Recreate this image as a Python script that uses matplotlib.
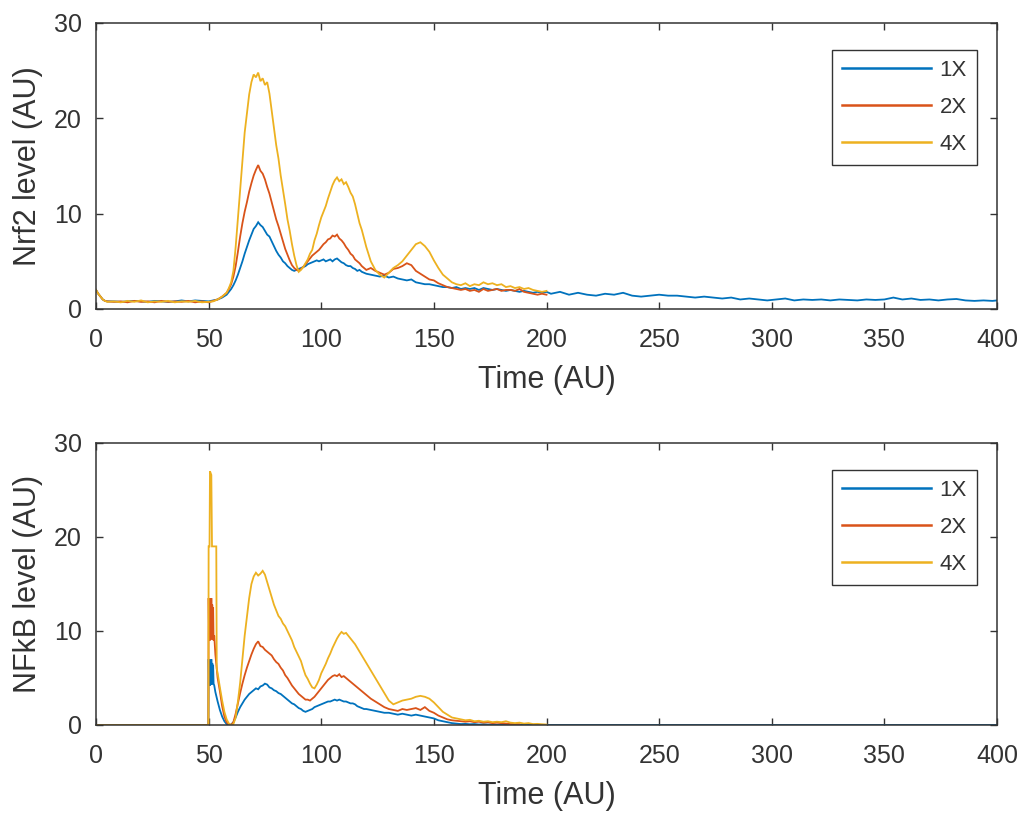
import numpy as np
import matplotlib
matplotlib.use("Agg")
import matplotlib.pyplot as plt

# ---------------- data ----------------
SERIES_LABELS = ["1X", "2X", "4X"]
SERIES_COLORS = ["#0072BD", "#D95319", "#EDB120"]

# Top panel (Nrf2) shared time grid 0..200
NRF2_T = [0, 1, 2, 3, 4, 5, 8, 11, 14, 17, 20, 23, 26, 29, 32, 35, 38, 41, 44, 47,
          50, 52, 54, 56, 58,
          59, 60, 61, 62, 63, 64, 65, 66, 67, 68, 69, 70, 71, 72, 73, 74, 75, 76, 77, 78, 79,
          80, 81, 82, 83, 84, 85, 86, 87, 88, 89, 90, 91, 92, 93, 94, 95, 96, 97, 98, 99,
          100, 101, 102, 103, 104, 105, 106, 107, 108, 109, 110, 111, 112, 113, 114, 115, 116, 117, 118, 119, 120,
          122, 124, 126, 128, 130, 132, 134, 136, 138, 140, 142, 144, 146, 148, 150, 152, 154, 156, 158, 160,
          162, 164, 166, 168, 170, 172, 174, 176, 178, 180, 182, 184, 186, 188, 190, 192, 194, 196, 198, 200]

NRF2_4X = [2.0, 1.6, 1.3, 1.0, 0.85, 0.75, 0.8, 0.7, 0.85, 0.75, 0.9, 0.7, 0.8, 0.75, 0.85, 0.7, 0.8, 0.75, 0.85, 0.7,
           0.75, 0.8, 1.0, 1.3, 1.7,
           2.2, 2.8, 4.0, 6.5, 9.5, 12.5, 15.5, 18.5, 20.5, 22.5, 23.8, 24.6, 24.3, 24.8, 23.9, 24.2, 23.5, 23.8, 22.6, 20.8, 19.0,
           17.2, 15.8, 14.0, 12.5, 11.0, 9.4, 8.2, 6.8, 5.6, 4.6, 3.9, 4.1, 4.4, 4.8, 5.2, 5.8, 6.2, 7.2, 7.9, 8.8,
           9.6, 10.2, 10.8, 11.6, 12.3, 13.0, 13.5, 13.8, 13.4, 13.6, 13.1, 13.3, 12.8, 12.2, 11.8, 11.0, 10.0, 9.0, 8.3, 7.4, 6.5,
           5.0, 4.1, 3.6, 3.3, 3.8, 4.3, 4.6, 5.0, 5.6, 6.2, 6.8, 7.0, 6.6, 6.0, 5.1, 4.3, 3.6, 3.2, 2.8, 2.6,
           2.5, 2.7, 2.4, 2.6, 2.5, 2.8, 2.6, 2.7, 2.5, 2.6, 2.3, 2.4, 2.2, 2.3, 2.1, 2.2, 2.0, 1.9, 1.8, 1.9]

NRF2_2X = [2.0, 1.6, 1.3, 1.0, 0.85, 0.8, 0.75, 0.8, 0.7, 0.85, 0.75, 0.8, 0.7, 0.85, 0.75, 0.8, 0.75, 0.85, 0.7, 0.8,
           0.7, 0.85, 1.0, 1.3, 1.7,
           2.1, 2.6, 3.4, 4.5, 6.0, 7.6, 9.0, 10.2, 11.2, 12.3, 13.2, 14.0, 14.6, 15.1, 14.5, 14.2, 13.6, 12.8, 12.1, 11.2, 10.3,
           9.4, 8.7, 7.9, 7.1, 6.3, 5.7, 5.1, 4.6, 4.3, 4.1, 4.0, 4.2, 4.4, 4.7, 5.0, 5.3, 5.6, 5.8, 6.0, 6.2,
           6.5, 6.8, 7.0, 7.3, 7.4, 7.7, 7.6, 7.8, 7.4, 7.2, 6.9, 6.5, 6.2, 5.8, 5.6, 5.2, 5.0, 4.8, 4.5, 4.3, 4.1,
           4.3, 4.0, 3.8, 3.6, 3.8, 4.2, 4.3, 4.5, 4.8, 4.6, 4.0, 3.7, 3.4, 3.1, 3.0, 2.7, 2.5, 2.3, 2.2, 2.1,
           2.0, 2.1, 1.9, 2.0, 1.8, 2.1, 1.9, 2.0, 2.1, 1.9, 2.0, 2.0, 1.9, 2.1, 1.8, 1.7, 1.6, 1.5, 1.6, 1.5]

NRF2_1X = [2.0, 1.6, 1.3, 1.0, 0.85, 0.8, 0.8, 0.75, 0.8, 0.85, 0.8, 0.75, 0.85, 0.8, 0.75, 0.8, 0.9, 0.8, 0.9, 0.85,
           0.8, 0.9, 1.0, 1.2, 1.5,
           1.8, 2.1, 2.5, 3.0, 3.6, 4.3, 5.0, 5.8, 6.5, 7.2, 7.8, 8.4, 8.7, 9.1, 8.8, 8.6, 8.2, 7.8, 7.6, 7.1, 6.6,
           6.1, 5.7, 5.4, 5.0, 4.8, 4.5, 4.3, 4.1, 4.0, 4.1, 4.2, 4.3, 4.4, 4.5, 4.7, 4.8, 4.9, 5.0, 5.1, 5.0,
           5.1, 5.2, 5.0, 5.1, 5.2, 5.0, 5.2, 5.3, 5.1, 4.9, 4.8, 4.6, 4.5, 4.5, 4.3, 4.2, 4.0, 4.1, 3.9, 3.8, 3.7,
           3.6, 3.5, 3.4, 3.5, 3.3, 3.4, 3.2, 3.1, 3.0, 3.1, 2.8, 2.7, 2.6, 2.6, 2.5, 2.4, 2.3, 2.3, 2.2, 2.3,
           2.1, 2.2, 2.1, 2.2, 2.0, 2.2, 2.1, 2.0, 2.1, 2.0, 1.9, 2.0, 1.9, 1.8, 1.9, 1.8, 1.7, 1.8, 1.7, 1.8]

# 1X continues to t = 400
NRF2_1X_TAIL_T = [202, 206, 210, 214, 218, 222, 226, 230, 234, 238, 242, 246, 250, 254, 258, 262, 266, 270,
                  274, 278, 282, 286, 290, 294, 298, 302, 306, 310, 314, 318, 322, 326, 330, 334, 338, 342,
                  346, 350, 354, 358, 362, 366, 370, 374, 378, 382, 386, 390, 394, 398, 400]
NRF2_1X_TAIL = [1.6, 1.8, 1.5, 1.7, 1.5, 1.4, 1.6, 1.5, 1.7, 1.4, 1.3, 1.4, 1.5, 1.4, 1.4, 1.3, 1.2, 1.3,
                1.2, 1.1, 1.2, 1.0, 1.1, 1.0, 0.9, 1.0, 1.1, 0.9, 1.0, 0.95, 1.0, 0.9, 1.0, 0.95, 0.9, 1.0,
                0.95, 1.0, 1.2, 1.0, 1.1, 0.95, 1.0, 0.9, 1.0, 1.05, 0.9, 0.85, 0.9, 0.85, 0.9]

# Bottom panel (NFkB): initial burst at t = 50
NFKB_4X_SPIKE_T = [0, 49.9, 50.0, 50.4, 50.6, 51.2, 51.5, 53.4, 53.6]
NFKB_4X_SPIKE = [0, 0, 19.0, 19.0, 27.0, 26.6, 19.0, 19.0, 6.0]
NFKB_2X_SPIKE_T = [0, 49.9, 50.0, 50.2, 50.4, 50.6, 50.8, 51.0, 51.2, 51.4, 51.6, 51.8, 52.0, 52.2, 52.5, 53.0]
NFKB_2X_SPIKE = [0, 0, 13.5, 9.2, 13.4, 9.0, 13.2, 9.3, 13.5, 9.1, 12.8, 9.4, 12.5, 9.0, 9.5, 7.5]
NFKB_1X_SPIKE_T = [0, 49.9, 50.0, 50.2, 50.4, 50.6, 50.8, 51.0, 51.2, 51.4, 51.6, 51.8, 52.0, 52.2, 52.5, 53.0]
NFKB_1X_SPIKE = [0, 0, 7.0, 4.3, 6.9, 4.2, 6.8, 4.4, 7.0, 4.3, 6.6, 4.5, 6.4, 4.4, 4.2, 3.5]

NFKB_T = [54, 55, 56, 57, 58, 59, 60, 61, 62, 63, 64, 65, 66, 67, 68, 69, 70, 71, 72, 73, 74, 75, 76, 77, 78, 79,
          80, 81, 82, 83, 84, 85, 86, 87, 88, 89, 90, 91, 92, 93, 94, 95, 96, 97, 98, 99,
          100, 101, 102, 103, 104, 105, 106, 107, 108, 109, 110, 111, 112, 113, 114, 115, 116, 117, 118, 119, 120,
          122, 124, 126, 128, 130, 132, 134, 136, 138, 140, 142, 144, 146, 148, 150, 152, 154, 156, 158, 160,
          162, 164, 166, 168, 170, 172, 174, 176, 178, 180, 182, 184, 186, 188, 190, 192, 194, 196, 198, 200]

NFKB_4X = [5.5, 4.0, 2.6, 1.4, 0.6, 0.15, 0.0, 0.1, 0.8, 2.5, 4.5, 7.0, 9.5, 11.5, 13.5, 15.0, 15.8, 16.2, 15.9, 16.1,
           16.4, 16.0, 15.2, 14.4, 13.6, 12.8,
           12.2, 11.6, 11.3, 10.8, 10.5, 10.0, 9.5, 9.0, 8.3, 7.8, 7.3, 6.8, 6.0, 5.3, 4.9, 4.4, 4.0, 3.9, 4.3, 4.8,
           5.5, 6.0, 6.5, 7.1, 7.6, 8.2, 8.7, 9.2, 9.6, 9.9, 9.7, 9.8, 9.5, 9.2, 8.9, 8.6, 8.2, 7.8, 7.4, 7.0, 6.6,
           5.8, 5.0, 4.2, 3.4, 2.6, 2.2, 2.4, 2.6, 2.7, 2.8, 3.0, 3.1, 3.0, 2.8, 2.4, 1.9, 1.4, 1.1, 0.8, 0.7,
           0.6, 0.5, 0.55, 0.4, 0.45, 0.35, 0.4, 0.3, 0.35, 0.3, 0.4, 0.25, 0.2, 0.25, 0.15, 0.2, 0.1, 0.12, 0.08, 0.05]

NFKB_2X = [5.0, 3.6, 2.0, 0.9, 0.3, 0.05, 0.0, 0.3, 1.2, 2.3, 3.4, 4.4, 5.3, 6.1, 6.8, 7.5, 8.1, 8.6, 8.9, 8.4,
           8.3, 8.0, 7.8, 7.6, 7.4, 7.0,
           6.7, 6.5, 6.1, 5.8, 5.3, 5.0, 4.6, 4.2, 3.9, 3.6, 3.3, 3.1, 2.9, 2.7, 2.7, 2.6, 2.8, 3.0, 3.3, 3.6,
           3.9, 4.2, 4.5, 4.8, 5.0, 5.2, 5.3, 5.2, 5.4, 5.1, 5.2, 5.0, 4.8, 4.6, 4.4, 4.2, 4.0, 3.8, 3.6, 3.4, 3.2,
           2.8, 2.5, 2.2, 1.9, 1.7, 1.6, 1.5, 1.7, 1.6, 1.7, 1.8, 1.6, 1.9, 1.5, 1.3, 1.0, 0.8, 0.6, 0.5, 0.45,
           0.4, 0.35, 0.4, 0.3, 0.35, 0.25, 0.3, 0.2, 0.25, 0.2, 0.15, 0.1, 0.12, 0.08,
           np.nan, np.nan, np.nan, np.nan, np.nan, np.nan]

NFKB_1X = [2.5, 1.6, 0.9, 0.4, 0.1, 0.0, 0.05, 0.3, 0.8, 1.4, 1.9, 2.3, 2.7, 3.0, 3.3, 3.5, 3.7, 3.9, 3.8, 4.1,
           4.2, 4.4, 4.3, 4.0, 3.9, 3.7,
           3.6, 3.4, 3.3, 3.1, 2.9, 2.7, 2.5, 2.3, 2.2, 2.0, 1.8, 1.7, 1.5, 1.4, 1.5, 1.6, 1.7, 1.9, 2.0, 2.1,
           2.2, 2.3, 2.4, 2.5, 2.5, 2.6, 2.7, 2.6, 2.7, 2.6, 2.5, 2.5, 2.4, 2.3, 2.3, 2.2, 2.0, 1.9, 1.8, 1.7, 1.7,
           1.6, 1.5, 1.4, 1.3, 1.3, 1.2, 1.1, 1.2, 1.1, 1.0, 1.1, 1.0, 0.9, 0.8, 0.7, 0.5, 0.4, 0.3, 0.2, 0.15,
           0.1, 0.12, 0.08, 0.1, 0.05, 0.08, 0.05, 0.04, 0.03, 0.03, 0.02, 0.03, 0.02, 0.02, 0.01, 0.02, 0.01, 0.0, 0.0, 0.0]
NFKB_1X_TAIL_T = [400]
NFKB_1X_TAIL = [0.0]

X_TICKS = [0, 50, 100, 150, 200, 250, 300, 350, 400]
Y_TICKS = [0, 10, 20, 30]
XLABEL = "Time (AU)"
YLABELS = ["Nrf2 level (AU)", "NFkB level (AU)"]

# ---------------- figure ----------------
plt.rcParams["font.family"] = ["Liberation Sans", "DejaVu Sans"]
GRAY = "#333333"
W, H = 1030, 815
fig = plt.figure(figsize=(W / 100, H / 100), dpi=100)

ax_top = fig.add_axes([96 / W, 1 - 309 / H, (997 - 96) / W, (309 - 23) / H])
ax_bot = fig.add_axes([96 / W, 1 - 725 / H, (997 - 96) / W, (725 - 443) / H])

top_series = [
    (NRF2_T + NRF2_1X_TAIL_T, NRF2_1X + NRF2_1X_TAIL),
    (NRF2_T, NRF2_2X),
    (NRF2_T, NRF2_4X),
]
bot_series = [
    (NFKB_1X_SPIKE_T + NFKB_T + NFKB_1X_TAIL_T, NFKB_1X_SPIKE + NFKB_1X + NFKB_1X_TAIL),
    (NFKB_2X_SPIKE_T + NFKB_T, NFKB_2X_SPIKE + NFKB_2X),
    (NFKB_4X_SPIKE_T + NFKB_T, NFKB_4X_SPIKE + NFKB_4X),
]

for ax, series, ylab, leg_top in [(ax_top, top_series, YLABELS[0], 50),
                                  (ax_bot, bot_series, YLABELS[1], 470)]:
    for (t, v), lab, col in zip(series, SERIES_LABELS, SERIES_COLORS):
        ax.plot(t, v, color=col, lw=1.3, label=lab, solid_joinstyle="miter")
    ax.set_xlim(0, 400)
    ax.set_ylim(0, 30)
    ax.set_xticks(X_TICKS)
    ax.set_yticks(Y_TICKS)
    ax.tick_params(axis="both", direction="in", length=5, width=1.0, colors=GRAY,
                   labelsize=18, top=True, right=True)
    ax.tick_params(axis="x", pad=14)
    ax.tick_params(axis="y", pad=10)
    for s in ax.spines.values():
        s.set_color(GRAY)
        s.set_linewidth(1.1)
    ax.set_xlabel(XLABEL, fontsize=22, color=GRAY, labelpad=9)
    ax.set_ylabel(ylab, fontsize=22, color=GRAY, labelpad=8)
    leg = ax.legend(loc="upper right",
                    bbox_to_anchor=(977 / W, 1 - leg_top / H),
                    bbox_transform=fig.transFigure,
                    borderaxespad=0, fontsize=16, handlelength=4.0,
                    handletextpad=0.4, labelspacing=0.72, borderpad=0.45,
                    fancybox=False, framealpha=1, edgecolor=GRAY)
    leg.get_frame().set_linewidth(1.0)
    for line in leg.get_lines():
        line.set_linewidth(1.8)
    for txt in leg.get_texts():
        txt.set_color(GRAY)

fig.savefig("out.png", dpi=100)
